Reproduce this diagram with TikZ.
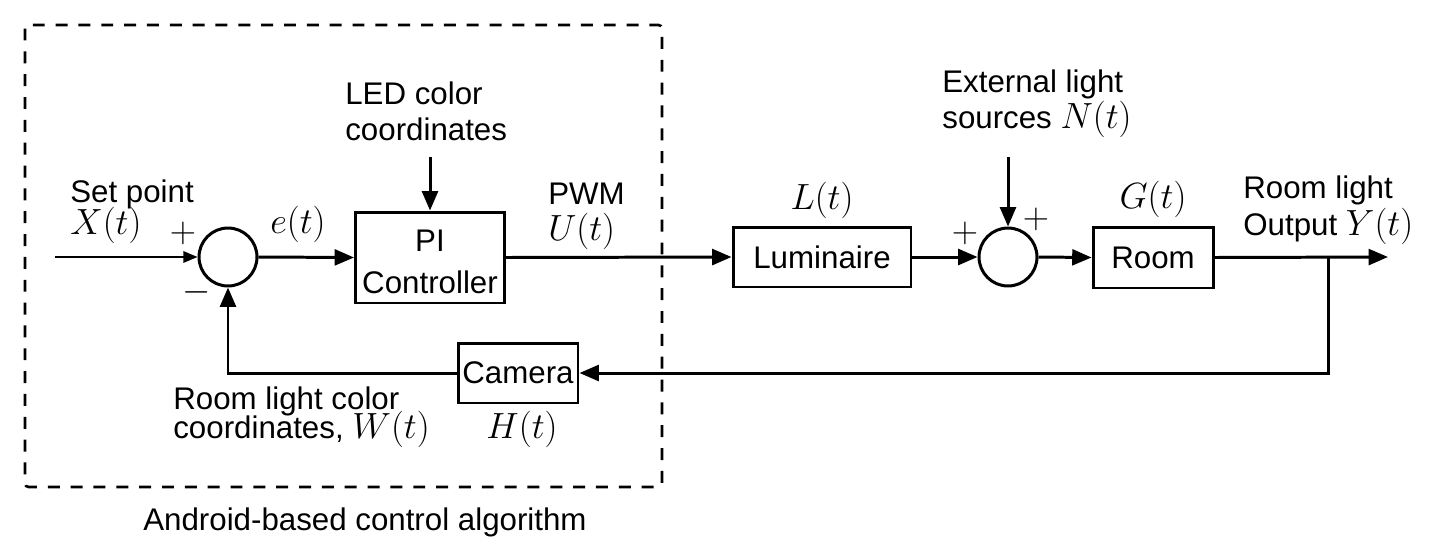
\documentclass[tikz,border=0pt]{standalone}
\usepackage[no-math]{fontspec}
\setmainfont{Liberation Sans}
\usetikzlibrary{arrows.meta}

\newcommand{\tsig}[1]{{\fontsize{20}{20}\selectfont$#1(t)$}}
\newcommand{\opsign}[1]{{\fontsize{21}{21}\selectfont$#1$}}

\tikzset{
  block/.style={rectangle, draw, line width=1.7pt, inner sep=0pt, align=center},
  sumnode/.style={circle, draw, line width=1.7pt, minimum size=1.16cm, inner sep=0pt},
  lbl/.style={inner sep=0pt, align=left, anchor=base west},
  mlbl/.style={inner sep=0pt, anchor=base},
  sig/.style={line width=1.7pt, -{Triangle[length=11pt, width=9pt]}},
}

\begin{document}
\begin{tikzpicture}[x=0.02cm, y=-0.02cm, font=\fontsize{17.8}{20}\selectfont]
\useasboundingbox (0,0) rectangle (1435,548);

% controller part
\draw[line width=1.5pt, dash pattern=on 6.8pt off 6.2pt, rounded corners=2pt] (25,25) rectangle (662,487);
\node[lbl] (alg) at (143,530) {Android-based control algorithm};

\node[sumnode] (sum1) at (228,257) {};
\node[block, minimum width=2.98cm, minimum height=1.82cm] (pi) at (430,257.5) {\rule{0pt}{17pt}PI\\[4pt]Controller};
\node[block, minimum width=3.56cm, minimum height=1.2cm] (lum) at (822,257) {Luminaire};
\node[sumnode] (sum2) at (1008,257) {};
\node[block, minimum width=2.4cm, minimum height=1.22cm] (room) at (1153,257.5) {Room};
\node[block, minimum width=2.4cm, minimum height=1.2cm] (cam) at (518,373) {Camera};

\coordinate (in) at (55,257);
\coordinate (led) at (430,157);
\coordinate (ext) at (1008,157);
\coordinate (out) at (1388,257);
\coordinate (br) at (1328,257);

% signals
\draw[line width=0.85pt, -{Triangle[length=8pt, width=6.5pt]}] (in) -- (sum1.west);
\draw[sig] (sum1.east) -- (pi.west);
\draw[sig] (led) -- (pi.north);
\draw[sig] (pi.east) -- (lum.west);
\draw[sig] (lum.east) -- (sum2.west);
\draw[sig] (ext) -- (sum2.north);
\draw[sig] (sum2.east) -- (room.west);
\draw[sig] (room.east) -- (out);
\draw[sig] (br) |- (cam.east);
\draw[sig] (cam.west) -| (sum1.south);

% labels (base = last line)
\node[lbl] (setpt) at (70,234) {Set point\\[-2pt]\tsig{X}};
\node[inner sep=0pt] (p1) at (183,233) {\opsign{+}};
\node[inner sep=0pt] (m1) at (197,292) {\opsign{-}};
\node[mlbl] (et) at (298,233) {\tsig{e}};
\node[lbl] (ledtxt) at (345,140) {LED color\\coordinates};
\node[lbl] (pwm) at (548,240) {PWM\\\tsig{U}};
\node[mlbl] (lt) at (822,209) {\tsig{L}};
\node[lbl] (exttxt) at (942,128) {External light\\sources \tsig{N}};
\node[inner sep=0pt] (p2) at (965,233) {\opsign{+}};
\node[inner sep=0pt] (p3) at (1036,219) {\opsign{+}};
\node[mlbl] (gt) at (1153,208) {\tsig{G}};
\node[lbl] (outtxt) at (1243,235) {Room light\\[1pt]Output \tsig{Y}};
\node[lbl] (wtxt) at (173,438) {Room light color\\[-4pt]coordinates, \tsig{W}};
\node[mlbl] (ht) at (522,438) {\tsig{H}};

\end{tikzpicture}
\end{document}
